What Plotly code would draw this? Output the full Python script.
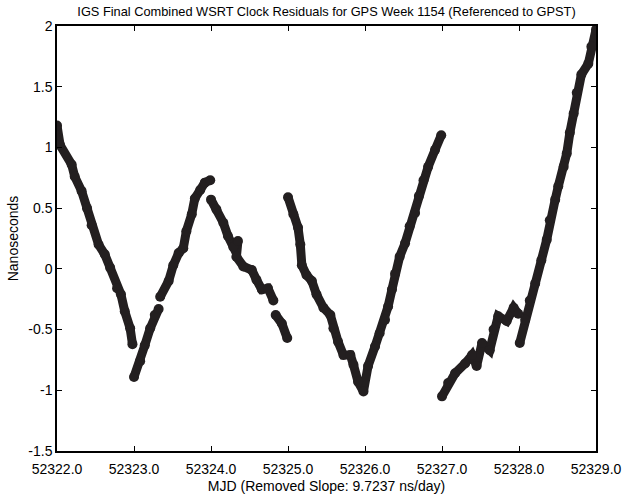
import plotly.graph_objects as go

# Clock residual segments (MJD, nanoseconds), one list per continuous arc
seg1_mjd = [52322.00, 52322.04, 52322.19, 52322.23, 52322.32, 52322.39, 52322.45, 52322.54,
            52322.62, 52322.69, 52322.78, 52322.83, 52322.88, 52322.95, 52322.98]
seg1_ns = [1.18, 1.02, 0.86, 0.76, 0.64, 0.50, 0.36, 0.20,
           0.12, 0.01, -0.16, -0.21, -0.35, -0.49, -0.62]

seg2_mjd = [52323.00, 52323.08, 52323.14, 52323.21, 52323.27, 52323.32]
seg2_ns = [-0.89, -0.76, -0.63, -0.49, -0.38, -0.33]

seg3_mjd = [52323.34, 52323.45, 52323.51, 52323.58, 52323.64, 52323.68, 52323.75,
            52323.79, 52323.86, 52323.92, 52323.99]
seg3_ns = [-0.23, -0.10, 0.03, 0.13, 0.17, 0.31, 0.45,
           0.58, 0.65, 0.71, 0.73]

seg4_mjd = [52324.00, 52324.07, 52324.16, 52324.22, 52324.29, 52324.35, 52324.33,
            52324.42, 52324.53, 52324.59, 52324.66, 52324.74, 52324.81]
seg4_ns = [0.57, 0.49, 0.38, 0.27, 0.18, 0.23, 0.10,
           0.02, -0.01, -0.09, -0.17, -0.16, -0.26]

seg5_mjd = [52324.84, 52324.92, 52324.99]
seg5_ns = [-0.38, -0.45, -0.57]

seg6_mjd = [52325.00, 52325.07, 52325.13, 52325.16, 52325.18, 52325.24, 52325.31, 52325.37,
            52325.46, 52325.55, 52325.59, 52325.65, 52325.72, 52325.81, 52325.85, 52325.91,
            52325.98, 52326.04, 52326.13, 52326.19, 52326.26, 52326.30, 52326.35, 52326.39,
            52326.45, 52326.52, 52326.58, 52326.65, 52326.70, 52326.76, 52326.82, 52326.91,
            52326.99]
seg6_ns = [0.59, 0.45, 0.34, 0.20, 0.03, -0.05, -0.10, -0.21,
           -0.32, -0.38, -0.49, -0.60, -0.71, -0.71, -0.79, -0.93,
           -1.01, -0.80, -0.64, -0.53, -0.42, -0.31, -0.17, -0.04,
           0.10, 0.21, 0.35, 0.46, 0.60, 0.73, 0.84, 0.98,
           1.10]

seg7_mjd = [52327.00, 52327.08, 52327.17, 52327.30, 52327.39, 52327.45, 52327.52, 52327.62,
            52327.67, 52327.73, 52327.84, 52327.93, 52327.99]
seg7_ns = [-1.05, -0.94, -0.86, -0.78, -0.71, -0.80, -0.61, -0.67,
           -0.50, -0.39, -0.43, -0.32, -0.37]

seg8_mjd = [52328.01, 52328.08, 52328.14, 52328.21, 52328.29, 52328.36, 52328.40, 52328.47,
            52328.51, 52328.58, 52328.62, 52328.66, 52328.71, 52328.75, 52328.81, 52328.90,
            52328.94, 52329.00]
seg8_ns = [-0.61, -0.42, -0.26, -0.12, 0.07, 0.24, 0.40, 0.57,
           0.68, 0.84, 0.95, 1.12, 1.28, 1.45, 1.60, 1.69,
           1.83, 1.97]

segments = [(seg1_mjd, seg1_ns), (seg2_mjd, seg2_ns), (seg3_mjd, seg3_ns), (seg4_mjd, seg4_ns),
            (seg5_mjd, seg5_ns), (seg6_mjd, seg6_ns), (seg7_mjd, seg7_ns), (seg8_mjd, seg8_ns)]

x_ticks = [52322, 52323, 52324, 52325, 52326, 52327, 52328, 52329]
y_ticks = [-1.5, -1, -0.5, 0, 0.5, 1, 1.5, 2]
y_tick_text = ["-1.5", "-1", "-0.5", "0", "0.5", "1", "1.5", "2"]

# join the arcs with None so the gaps stay open
xs, ys = [], []
for mx, ny in segments:
    xs += mx + [None]
    ys += ny + [None]

ink = "#231f20"
font = "Liberation Sans, Arial, Helvetica, sans-serif"

fig = go.Figure()
fig.add_trace(go.Scatter(
    x=xs, y=ys, mode="lines+markers",
    line=dict(color=ink, width=9),
    marker=dict(symbol="circle", size=10, color=ink),
    connectgaps=False, showlegend=False, hoverinfo="skip",
))

axis_common = dict(
    showgrid=False, zeroline=False, showline=True, linecolor="black", linewidth=1.5,
    mirror="ticks", ticks="inside", ticklen=5, tickwidth=1, tickcolor="black",
    tickfont=dict(family=font, size=14, color="black"),
)

fig.update_layout(
    width=624, height=496,
    margin=dict(l=57, r=28, t=26, b=45, autoexpand=False),
    paper_bgcolor="white", plot_bgcolor="white",
    title=dict(text="IGS Final Combined WSRT Clock Residuals for GPS Week 1154 (Referenced to GPST)",
               x=(57 + 596) / 2 / 624, xanchor="center", y=1 - 12 / 496, yanchor="middle",
               yref="container", font=dict(family=font, size=12.8, color="black")),
    xaxis=dict(range=[52322, 52329], tickvals=x_ticks, tickformat=".1f",
               ticklabelstandoff=4, automargin=False,
               title=dict(text="MJD (Removed Slope: 9.7237 ns/day)", standoff=6,
                          font=dict(family=font, size=14, color="black")),
               **axis_common),
    yaxis=dict(range=[-1.5, 2], tickvals=y_ticks, ticktext=y_tick_text, automargin=False,
               title=dict(text="Nanoseconds", standoff=6,
                          font=dict(family=font, size=14, color="black")),
               **axis_common),
)

fig.write_html("out.html")
